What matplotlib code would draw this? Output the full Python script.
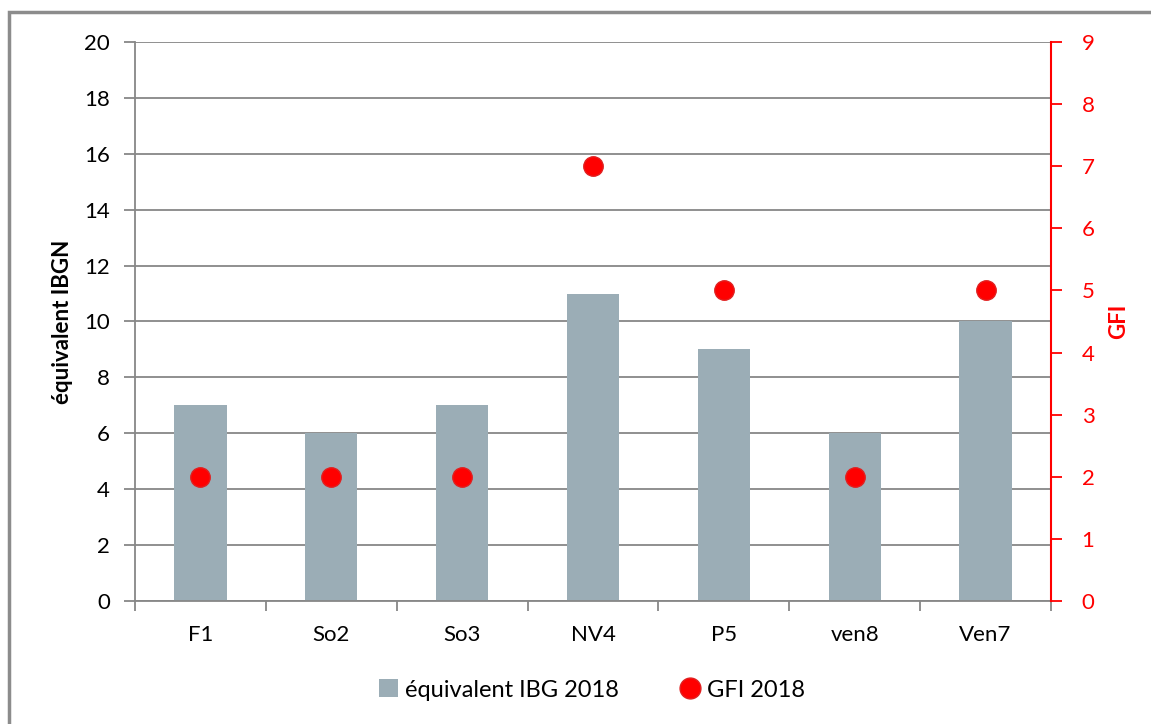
import matplotlib
matplotlib.use("Agg")
import matplotlib.pyplot as plt
from matplotlib.lines import Line2D
from matplotlib.patches import Patch, Rectangle
import numpy as np

categories = ["F1", "So2", "So3", "NV4", "P5", "ven8", "Ven7"]
ibg_values = [7, 6, 7, 11, 9, 6, 10]
gfi_values = [2, 2, 2, 7, 5, 2, 5]

bar_color = "#9BADB6"
red = "#FF0000"
grid_gray = "#878787"

plt.rcParams["font.family"] = ["Lato", "DejaVu Sans"]

fig = plt.figure(figsize=(11.51, 7.24), dpi=100)
ax = fig.add_axes([135 / 1151, 1 - 601 / 724, (1051 - 135) / 1151, (601 - 42) / 724])
ax2 = ax.twinx()

x = np.arange(len(categories))
ax.bar(x, ibg_values, width=0.4, color=bar_color, zorder=2)
ax.set_xlim(-0.5, len(categories) - 0.5)
ax.set_ylim(0, 20)
ax.set_yticks(range(0, 21, 2))
ax.yaxis.grid(True, color=grid_gray, linewidth=1.3, zorder=0)
ax.set_axisbelow(True)

ax.set_xticks(x)
ax.set_xticklabels(categories, fontsize=16)
ax.set_xticks(np.arange(-0.5, len(categories), 1), minor=True)
ax.tick_params(axis="x", which="major", length=0, pad=17)
ax.tick_params(axis="x", which="minor", length=7, width=1.3, color=grid_gray, direction="out")
ax.tick_params(axis="y", length=8, width=1.3, color=grid_gray, labelsize=16, pad=10)
ax.set_ylabel("équivalent IBGN", fontsize=16, fontweight="bold", labelpad=8)

for side in ["top", "right"]:
    ax.spines[side].set_visible(False)
for side in ["left", "bottom"]:
    ax.spines[side].set_color(grid_gray)
    ax.spines[side].set_linewidth(1.3)

ax2.plot(x, gfi_values, linestyle="none", marker="o", markersize=14,
         color=red, markeredgecolor="#E02020", markeredgewidth=1, zorder=3)
ax2.set_ylim(0, 9)
ax2.set_yticks(range(0, 10))
ax2.tick_params(axis="y", colors=red, length=8, width=1.3, labelsize=16, pad=14)
ax2.set_ylabel("GFI", fontsize=16, fontweight="bold", color=red, labelpad=10)
for side in ["top", "left", "bottom"]:
    ax2.spines[side].set_visible(False)
ax2.spines["right"].set_color(red)
ax2.spines["right"].set_linewidth(1.5)

handles = [
    Patch(facecolor=bar_color, edgecolor="none", label="équivalent IBG 2018"),
    Line2D([], [], linestyle="none", marker="o", markersize=15, color=red,
           markeredgecolor="#E02020", label="GFI 2018"),
]
fig.legend(handles=handles, loc="center", bbox_to_anchor=(592 / 1151, 1 - 690 / 724),
           ncol=2, frameon=False, fontsize=17, handlelength=0.8, handleheight=0.8,
           handletextpad=0.3, columnspacing=2.6)

# outer chart frame
fig.patches.append(Rectangle((9 / 1151, -0.05), 1.1, 1 - 12 / 724 + 0.05,
                             transform=fig.transFigure, fill=False,
                             edgecolor="#8C8C8C", linewidth=2.5))

fig.savefig("out.png", dpi=100)
